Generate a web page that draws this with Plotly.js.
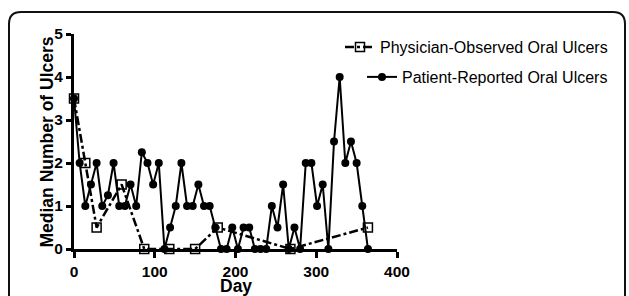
<!DOCTYPE html>
<html><head><meta charset="utf-8">
<script src="https://cdn.plot.ly/plotly-3.0.1.min.js"></script>
<style>html,body{margin:0;padding:0;background:#fff;}#chart{width:629px;height:296px;}</style>
</head><body><div id="chart"></div>
<script>
// Data
const patientDays = [0,7,14,21,28,35,42,49,56,63,70,77,84,91,98,105,112,119,126,133,140,147,154,161,168,175,182,189,196,203,210,217,224,231,238,245,252,259,266,273,280,287,294,301,308,315,322,329,336,343,350,357,364];
const patientUlcers = [3.5,2,1,1.5,2,1,1.25,2,1,1,1.5,1,2.25,2,1.5,2,0,0.5,1,2,1,1,1.5,1,1,0.5,0,0,0.5,0,0.5,0.5,0,0,0,1,0.5,1.5,0,0.5,0,2,2,1,1.5,0,2.5,4,2,2.5,2,1,0];
const physicianDays = [0,14,28,59,87,118,150,178,268,364];
const physicianUlcers = [3.5,2,0.5,1.5,0,0,0,0.5,0,0.5];
const xTicks = [0,100,200,300,400];
const yTicks = [0,1,2,3,4,5];

const W = 629, H = 296;
const L = 74, R = 397, T = 34, B = 249;
const px = x => (x - L) / (R - L);
const py = y => (B - y) / (B - T);
// rounded frame
const fx0 = 9, fx1 = 625, fy0 = 12, fy1 = 310, rr = 12;
const framePath = `M ${px(fx0)},${py(fy1)} L ${px(fx0)},${py(fy0+rr)} Q ${px(fx0)},${py(fy0)} ${px(fx0+rr)},${py(fy0)} L ${px(fx1-rr)},${py(fy0)} Q ${px(fx1)},${py(fy0)} ${px(fx1)},${py(fy0+rr)} L ${px(fx1)},${py(fy1)}`;

const font = '"Liberation Sans", Arial, sans-serif';
const traces = [
  {x: physicianDays, y: physicianUlcers, name: 'Physician-Observed Oral Ulcers', mode: 'lines+markers', legend: 'legend',
   line: {color: '#000', width: 2.5, dash: 'dashdot'},
   marker: {symbol: 'square-open', size: 9, color: '#000', line: {width: 1.5, color: '#000'}}, cliponaxis: false},
  {x: patientDays, y: patientUlcers, name: 'Patient-Reported Oral Ulcers', mode: 'lines+markers', legend: 'legend2',
   line: {color: '#000', width: 2},
   marker: {symbol: 'circle', size: 8, color: '#000'}, cliponaxis: false}
];
const layout = {
  width: W, height: H,
  margin: {l: L, r: W - R, t: T, b: H - B, pad: 0},
  paper_bgcolor: '#fff', plot_bgcolor: '#fff',
  font: {family: font, color: '#000'},
  showlegend: true,
  xaxis: {range: [0, 400], tickvals: xTicks, showline: true, linewidth: 3, linecolor: '#000',
    ticks: 'outside', ticklen: 6, tickwidth: 3, tickcolor: '#000', showgrid: false, zeroline: false,
    tickfont: {family: font, size: 15.5, weight: 'bold'}, automargin: false},
  yaxis: {range: [0, 5], tickvals: yTicks, showline: true, linewidth: 3, linecolor: '#000',
    ticks: 'outside', ticklen: 5, tickwidth: 3, tickcolor: '#000', showgrid: false, zeroline: false,
    tickfont: {family: font, size: 15.5, weight: 'bold'}, automargin: false},
  annotations: [
    {text: '<b>Median Number of Ulcers</b>', textangle: -90, xref: 'paper', yref: 'paper',
     x: px(58), y: 0.5, xanchor: 'right', yanchor: 'middle', showarrow: false,
     font: {family: font, size: 17.5, color: '#000'}},
    {text: '<b>Day</b>', xref: 'paper', yref: 'paper',
     x: 0.5, y: py(285.5), xanchor: 'center', yanchor: 'middle', showarrow: false, borderpad: 0,
     font: {family: font, size: 17.5, color: '#000'}}
  ],
  legend: {x: px(613), y: py(47), xanchor: 'right', yanchor: 'middle', bgcolor: 'rgba(0,0,0,0)',
    font: {family: font, size: 16}, itemwidth: 30},
  legend2: {x: px(613), y: py(77), xanchor: 'right', yanchor: 'middle', bgcolor: 'rgba(0,0,0,0)',
    font: {family: font, size: 16}, itemwidth: 30},
  shapes: [{type: 'path', xref: 'paper', yref: 'paper', path: framePath, line: {color: '#111', width: 2}, layer: 'below'}]
};
Plotly.newPlot('chart', traces, layout, {displayModeBar: false, staticPlot: true});
</script></body></html>
